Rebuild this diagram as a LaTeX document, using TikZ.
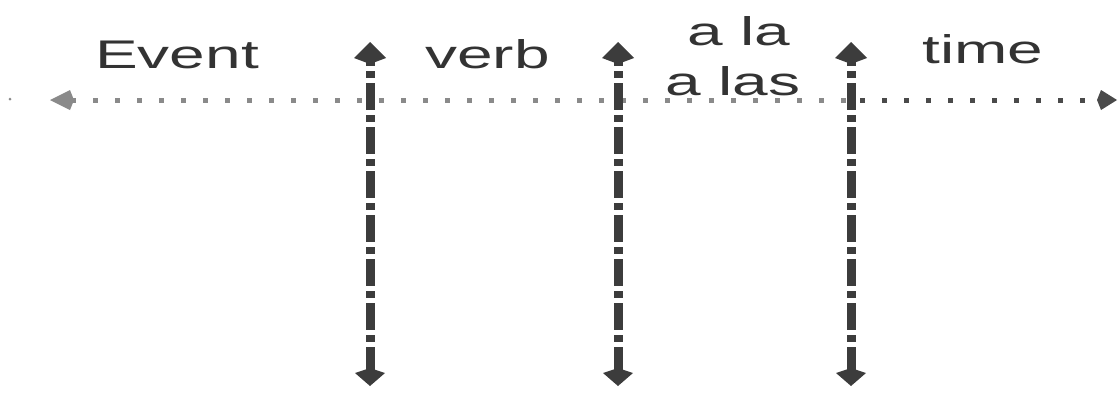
\documentclass[tikz,border=0pt]{standalone}
\usepackage{fontspec}
\setmainfont{Liberation Sans}
\usetikzlibrary{arrows.meta}
\definecolor{txt}{HTML}{333333}
\definecolor{hline}{HTML}{8A8A8A}
\definecolor{hdark}{HTML}{3A3A3A}
\definecolor{vline}{HTML}{3C3C3C}
\tikzset{
  lbl/.style={anchor=base west, inner sep=0pt, text=txt, font=\fontsize{40}{50}\selectfont},
  hdots/.style={line width=5pt, dash pattern=on 5pt off 17pt},
  vdash/.style={draw=vline, line width=9pt, dash pattern=on 27pt off 5pt on 7pt off 5pt,
    {Kite[length=18pt,width=30pt,inset=5pt]}-{Kite[length=22pt,width=32pt,inset=6pt]}},
}
\newcommand{\wide}[1]{\scalebox{1.6}[1]{#1}}
\begin{document}
\begin{tikzpicture}[x=1pt,y=-1pt]
\useasboundingbox (0,0) rectangle (1119,394);
% coordinates
\coordinate (hl) at (50,100);
\coordinate (hm) at (860,100);
\coordinate (hr) at (1117,100);
\coordinate (dot) at (10,99);
\coordinate (v1t) at (370,42);  \coordinate (v1b) at (370,386);
\coordinate (v2t) at (618,42);  \coordinate (v2b) at (618,386);
\coordinate (v3t) at (851,42);  \coordinate (v3b) at (851,386);
% horizontal timeline
\fill[hline] (dot) circle (1.5pt);
\draw[hdots, draw=hline, {Kite[length=24pt,width=20pt,inset=4pt]}-] (hl) -- (hm);
\draw[hdots, draw=hdark!80!hline, -{Kite[length=20pt,width=20pt,inset=4pt]}] (hm) -- (hr);
% vertical separators
\draw[vdash] (v1b) -- (v1t);
\draw[vdash] (v2b) -- (v2t);
\draw[vdash] (v3b) -- (v3t);
% labels
\node[lbl] (event) at (95,68) {\wide{Event}};
\node[lbl] (verb) at (425,68) {\wide{verb}};
\node[lbl] (ala) at (687,45) {\wide{a la}};
\node[lbl] (alas) at (665,95) {\wide{a las}};
\node[lbl] (time) at (922,63) {\wide{time}};
\end{tikzpicture}
\end{document}
